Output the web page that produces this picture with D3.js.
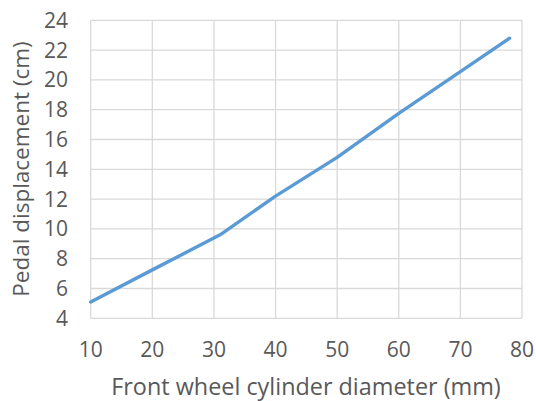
<!DOCTYPE html>
<html><head><meta charset="utf-8">
<script src="https://cdn.jsdelivr.net/npm/d3@7"></script>
<style>body{margin:0;background:#fff}svg{display:block}text{font-family:"Open Sans",sans-serif;fill:#595959}</style>
</head><body><svg id="c" width="536" height="401"></svg>
<script>
const diameters = [10, 20, 31, 40, 50, 60, 70, 78];
const displacement = [5.1, 7.25, 9.6, 12.2, 14.8, 17.75, 20.55, 22.8];
const xTicks = [10, 20, 30, 40, 50, 60, 70, 80];
const yTicks = [4, 6, 8, 10, 12, 14, 16, 18, 20, 22, 24];
const xTitle = "Front wheel cylinder diameter (mm)";
const yTitle = "Pedal displacement (cm)";

const svg = d3.select("#c");
const L = 90.7, R = 522, T = 20.3, B = 318.3;
const x = d3.scaleLinear().domain([10, 80]).range([L, R]);
const y = d3.scaleLinear().domain([4, 24]).range([B, T]);

const g = svg.append("g");
g.selectAll("line.v").data(xTicks).join("line")
  .attr("x1", d => x(d)).attr("x2", d => x(d)).attr("y1", T).attr("y2", B)
  .attr("stroke", "#d9d9d9").attr("stroke-width", 1.3);
g.selectAll("line.h").data(yTicks).join("line")
  .attr("y1", d => y(d)).attr("y2", d => y(d)).attr("x1", L).attr("x2", R)
  .attr("stroke", "#d9d9d9").attr("stroke-width", 1.3);

g.selectAll("text.yt").data(yTicks).join("text")
  .attr("x", 68).attr("y", d => y(d)).attr("dy", "0.36em")
  .attr("text-anchor", "end").attr("font-size", 21).text(d => d);
g.selectAll("text.xt").data(xTicks).join("text")
  .attr("x", d => x(d)).attr("y", 357)
  .attr("text-anchor", "middle").attr("font-size", 21).text(d => d);

svg.append("text").attr("x", 306).attr("y", 395)
  .attr("text-anchor", "middle").attr("font-size", 23.4).text(xTitle);
svg.append("text").attr("transform", `translate(28.5,169) rotate(-90)`)
  .attr("text-anchor", "middle").attr("font-size", 22.5).text(yTitle);

const pts = diameters.map((d, i) => [d, displacement[i]]);
svg.append("path").datum(pts)
  .attr("d", d3.line().x(d => x(d[0])).y(d => y(d[1])))
  .attr("fill", "none").attr("stroke", "#5b9bd5").attr("stroke-width", 3.4)
  .attr("stroke-linecap", "round").attr("stroke-linejoin", "round");
</script></body></html>
